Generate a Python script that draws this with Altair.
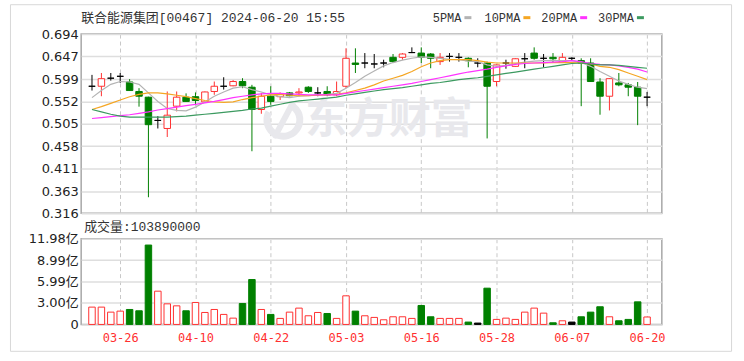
import altair as alt
import pandas as pd

# ---------------- data ----------------
dates = ["03-21","03-22","03-25","03-26","03-27","03-28","04-02","04-03","04-05","04-08",
         "04-09","04-10","04-11","04-12","04-15","04-16","04-17","04-18","04-19","04-22",
         "04-23","04-24","04-25","04-26","04-29","04-30","05-02","05-03","05-06","05-07",
         "05-08","05-09","05-10","05-13","05-14","05-16","05-17","05-20","05-21","05-22",
         "05-23","05-24","05-27","05-28","05-29","05-30","05-31","06-03","06-04","06-05",
         "06-06","06-07","06-11","06-12","06-13","06-14","06-17","06-18","06-19","06-20"]

opens = [0.584,0.584,0.601,0.605,0.593,0.573,0.561,0.512,0.495,0.542,
         0.561,0.562,0.551,0.573,0.584,0.585,0.594,0.582,0.535,0.563,
         0.562,0.570,0.570,0.582,0.570,0.573,0.566,0.584,0.633,0.633,
         0.631,0.633,0.645,0.645,0.655,0.654,0.652,0.636,0.647,0.645,
         0.643,0.633,0.633,0.594,0.633,0.626,0.642,0.654,0.643,0.645,
         0.635,0.643,0.638,0.633,0.593,0.563,0.591,0.587,0.582,0.561]
highs = [0.608,0.612,0.612,0.612,0.599,0.580,0.562,0.521,0.573,0.573,
         0.569,0.571,0.573,0.594,0.603,0.597,0.601,0.587,0.570,0.584,
         0.571,0.572,0.580,0.584,0.582,0.584,0.594,0.664,0.664,0.654,
         0.652,0.640,0.652,0.654,0.666,0.666,0.654,0.654,0.654,0.654,
         0.645,0.643,0.636,0.630,0.640,0.643,0.654,0.666,0.652,0.654,
         0.654,0.645,0.643,0.643,0.601,0.601,0.612,0.591,0.593,0.572]
lows = [0.575,0.563,0.596,0.591,0.574,0.541,0.350,0.495,0.477,0.531,
        0.551,0.544,0.549,0.566,0.577,0.584,0.580,0.447,0.526,0.545,
        0.555,0.563,0.563,0.570,0.563,0.563,0.563,0.580,0.612,0.622,
        0.622,0.624,0.633,0.640,0.654,0.633,0.622,0.629,0.636,0.636,
        0.624,0.624,0.474,0.584,0.621,0.625,0.622,0.640,0.624,0.633,
        0.633,0.638,0.542,0.594,0.524,0.533,0.584,0.563,0.502,0.542]
closes = [0.584,0.600,0.601,0.605,0.575,0.563,0.503,0.512,0.523,0.561,
          0.552,0.554,0.572,0.584,0.584,0.594,0.585,0.535,0.563,0.552,
          0.568,0.564,0.572,0.573,0.570,0.566,0.573,0.643,0.630,0.633,
          0.631,0.633,0.636,0.652,0.655,0.645,0.643,0.645,0.647,0.645,
          0.638,0.633,0.584,0.629,0.633,0.642,0.642,0.643,0.643,0.642,
          0.645,0.643,0.633,0.594,0.563,0.600,0.587,0.582,0.563,0.561]

# volume in 亿 shares
volumes = [2.42,2.42,1.72,1.86,2.09,1.91,11.10,4.65,2.88,2.60,
           1.91,3.07,1.67,2.09,1.40,0.88,2.93,6.28,2.09,1.40,
           0.84,1.72,2.28,1.21,1.67,1.53,0.84,4.00,1.86,1.21,
           0.98,0.65,1.07,1.07,0.84,2.65,1.07,0.84,0.84,0.84,
           0.33,0.19,5.07,0.70,0.88,0.70,1.72,2.28,1.58,0.23,
           0.51,0.33,1.07,1.72,2.47,1.07,0.51,0.70,3.16,1.0389]
vol_kind = ["r","r","r","r","g","g","g","r","r","r",
            "g","r","r","r","r","r","g","g","r","g",
            "r","r","r","r","r","g","r","r","g","r",
            "r","r","r","r","r","g","g","r","r","r",
            "g","R","g","r","r","r","r","r","r","g",
            "r","R","g","g","g","r","g","g","g","r"]

ma5 = [0.560,0.575,0.588,0.594,0.593,0.588,0.570,0.552,0.537,0.533,
       0.532,0.540,0.551,0.563,0.572,0.580,0.583,0.577,0.572,0.566,
       0.562,0.560,0.563,0.564,0.566,0.567,0.569,0.580,0.592,0.605,
       0.616,0.627,0.634,0.639,0.643,0.646,0.645,0.643,0.641,0.640,
       0.637,0.636,0.629,0.626,0.628,0.632,0.635,0.637,0.638,0.638,
       0.638,0.638,0.634,0.626,0.615,0.605,0.595,0.588,0.582,0.579]
ma10 = [0.535,0.541,0.548,0.555,0.562,0.567,0.570,0.570,0.568,0.565,
        0.562,0.558,0.554,0.551,0.550,0.551,0.556,0.560,0.563,0.566,
        0.567,0.565,0.564,0.564,0.565,0.566,0.567,0.570,0.575,0.580,
        0.587,0.595,0.601,0.607,0.615,0.625,0.633,0.638,0.640,0.640,
        0.640,0.638,0.635,0.633,0.633,0.633,0.633,0.633,0.633,0.634,
        0.634,0.634,0.633,0.631,0.626,0.624,0.619,0.612,0.605,0.598]
ma20 = [0.516,0.518,0.520,0.522,0.524,0.527,0.530,0.534,0.537,0.540,
        0.543,0.546,0.549,0.552,0.556,0.560,0.563,0.566,0.568,0.569,
        0.569,0.568,0.567,0.566,0.566,0.566,0.566,0.569,0.572,0.575,
        0.578,0.581,0.584,0.587,0.590,0.594,0.598,0.602,0.606,0.610,
        0.614,0.617,0.620,0.624,0.627,0.630,0.632,0.633,0.634,0.635,
        0.636,0.638,0.636,0.632,0.630,0.629,0.627,0.624,0.620,0.614]
ma30 = [0.535,0.530,0.525,0.521,0.519,0.519,0.519,0.519,0.519,0.520,
        0.521,0.523,0.525,0.527,0.529,0.531,0.533,0.536,0.538,0.542,
        0.546,0.550,0.553,0.555,0.557,0.559,0.561,0.565,0.568,0.571,
        0.574,0.577,0.579,0.581,0.584,0.587,0.590,0.592,0.595,0.598,
        0.600,0.602,0.605,0.608,0.611,0.614,0.617,0.620,0.623,0.626,
        0.629,0.632,0.633,0.631,0.629,0.629,0.628,0.626,0.624,0.622]

label_dates = ["03-26","04-10","04-22","05-03","05-16","05-28","06-07","06-20"]
price_ticks = [0.316,0.363,0.411,0.458,0.505,0.552,0.599,0.647,0.694]
vol_ticks = [0, 3.00, 5.99, 8.99, 11.98]
ma_names = ["5PMA","10PMA","20PMA","30PMA"]
ma_colors = ["#b3b3b3","#f5a623","#ff33ff","#3c9a60"]

title_text = "联合能源集团[00467] 2024-06-20 15:55"
vol_title = "成交量:103890000"
watermark_text = "东方财富"

# ---------------- frames ----------------
n = len(dates)
def kind(o, c):
    return "up" if c > o else ("down" if c < o else "flat")

df = pd.DataFrame({"i": list(range(n)), "date": dates, "open": opens, "high": highs,
                   "low": lows, "close": closes,
                   "kind": [kind(o, c) for o, c in zip(opens, closes)]})
dv = pd.DataFrame({"i": list(range(n)), "vol": volumes, "vk": vol_kind})
ma_rows = []
for name, arr in zip(ma_names, [ma5, ma10, ma20, ma30]):
    for k, v in enumerate(arr):
        ma_rows.append({"i": k, "v": v, "name": name})
dma = pd.DataFrame(ma_rows)

label_idx = [dates.index(d) for d in label_dates]
date_arr = "[" + ",".join("'" + d + "'" for d in dates) + "]"

W, HP, HV = 583, 180, 86
xscale = alt.Scale(domain=[-0.62, 60.04], nice=False, zero=False)
x_top = alt.X("i:Q", scale=xscale, title=None,
              axis=alt.Axis(values=label_idx, labels=False, ticks=False, domain=False,
                            grid=True, gridDash=[4, 3], gridColor="#c8c8c8", gridWidth=1))
x_bot = alt.X("i:Q", scale=xscale, title=None,
              axis=alt.Axis(values=label_idx, labelExpr=date_arr + "[datum.value]",
                            ticks=False, domain=False, labelPadding=8,
                            labelColor="#ff3030", labelFont="DejaVu Sans Mono",
                            labelFontSize=12, grid=True, gridDash=[4, 3],
                            gridColor="#c8c8c8", gridWidth=1))
yscale = alt.Scale(domain=[0.316, 0.694], nice=False, zero=False)
y_axis = alt.Axis(values=price_ticks, format=".3f", ticks=False, domain=False,
                  labelPadding=3, labelFont="DejaVu Sans", labelFontSize=13,
                  labelColor="#222222", grid=True, gridColor="#dedede", gridWidth=1.5)

kstroke = alt.Scale(domain=["up", "down", "flat"], range=["#ff3030", "#008000", "#000000"])
kfill = alt.Scale(domain=["up", "down", "flat"], range=["#ffffff", "#008000", "#000000"])

one = lambda t: pd.DataFrame({"t": [t]})

frame = alt.Chart(one("f")).mark_rect(fill="white", fillOpacity=0, stroke="#d8d8d8",
                                      strokeWidth=1).encode(
    x=alt.value(-71), x2=alt.value(653), y=alt.value(-29.5), y2=alt.value(318.5))

wm_col = "#e8e8ec"
watermark = alt.Chart(one(watermark_text)).mark_text(
    font="Noto Sans CJK SC", fontSize=42, fontWeight="bold", color=wm_col,
    align="center", baseline="middle").encode(
    x=alt.value(309), y=alt.value(86), text="t:N")
logo_ring = alt.Chart(one("o")).mark_arc(innerRadius=13, outerRadius=20, color=wm_col).encode(
    x=alt.value(203), y=alt.value(86), theta=alt.value(0.5), theta2=alt.value(5.2))
logo_slash = alt.Chart(one("s")).mark_rule(strokeWidth=6, color=wm_col, strokeCap="round").encode(
    x=alt.value(195), x2=alt.value(212), y=alt.value(102), y2=alt.value(70))

wicks = alt.Chart(df).mark_rule(strokeWidth=1).encode(
    x=x_top, y=alt.Y("low:Q", scale=yscale, axis=y_axis, title=None), y2="high:Q",
    stroke=alt.Stroke("kind:N", scale=kstroke, legend=None))
bodies = alt.Chart(df).mark_bar(size=6.5, strokeWidth=1).encode(
    x=x_top, y=alt.Y("open:Q", scale=yscale, axis=y_axis, title=None), y2="close:Q",
    fill=alt.Fill("kind:N", scale=kfill, legend=None),
    stroke=alt.Stroke("kind:N", scale=kstroke, legend=None))
lines = alt.Chart(dma).mark_line(strokeWidth=1.2).encode(
    x=x_top, y=alt.Y("v:Q", scale=yscale, axis=y_axis, title=None),
    color=alt.Color("name:N", scale=alt.Scale(domain=ma_names, range=ma_colors), legend=None))

title_mark = alt.Chart(one(title_text)).mark_text(
    font="Liberation Mono, Noto Sans CJK SC", fontSize=13, color="#333333",
    align="left", baseline="middle").encode(x=alt.value(0), y=alt.value(-16), text="t:N")

legend_layers = []
lx = [353, 405, 462, 519]
for k, (name, col) in enumerate(zip(ma_names, ma_colors)):
    tw = 7.2 * len(name)
    legend_layers.append(alt.Chart(one(name)).mark_text(
        font="Liberation Mono", fontSize=12, color="#333333",
        align="left", baseline="middle").encode(
        x=alt.value(lx[k]), y=alt.value(-16.5), text="t:N"))
    legend_layers.append(alt.Chart(one(name)).mark_rect(color=col).encode(
        x=alt.value(lx[k] + tw + 3), x2=alt.value(lx[k] + tw + 10),
        y=alt.value(-18), y2=alt.value(-15)))

price = alt.layer(frame, watermark, logo_ring, logo_slash, wicks, bodies, lines,
                  title_mark, *legend_layers).properties(width=W, height=HP)

vstroke = alt.Scale(domain=["r", "g", "R"], range=["#ff3030", "#008000", "#ff3030"])
vfill = alt.Scale(domain=["r", "g", "R"], range=["#ffffff", "#008000", "#ff3030"])
vbars = alt.Chart(dv).mark_bar(size=6.5, strokeWidth=1).encode(
    x=x_bot,
    y=alt.Y("vol:Q", scale=alt.Scale(domain=[0, 11.98], nice=False, zero=True), title=None,
            axis=alt.Axis(values=vol_ticks,
                          labelExpr="datum.value == 0 ? '0' : format(datum.value, '.2f') + '亿'",
                          ticks=False, domain=False, labelPadding=3,
                          labelFont="DejaVu Sans, Noto Sans CJK SC", labelFontSize=13,
                          labelColor="#222222", grid=True, gridColor="#dedede", gridWidth=1.5)),
    fill=alt.Fill("vk:N", scale=vfill, legend=None),
    stroke=alt.Stroke("vk:N", scale=vstroke, legend=None))
vtitle = alt.Chart(one(vol_title)).mark_text(
    font="Liberation Mono, Noto Sans CJK SC", fontSize=13, color="#333333",
    align="left", baseline="middle").encode(x=alt.value(3), y=alt.value(-12), text="t:N")

volume = alt.layer(vbars, vtitle).properties(width=W, height=HV)

chart = alt.vconcat(price, volume, spacing=25.5, bounds="flush").properties(
    padding={"left": 8.5, "top": 2.5, "right": 10.5, "bottom": 9.5},
    background="white"
).configure_view(stroke="#a8a8a8", strokeWidth=1.5)

chart.save("out.html", embed_options={"renderer": "svg", "actions": False})
